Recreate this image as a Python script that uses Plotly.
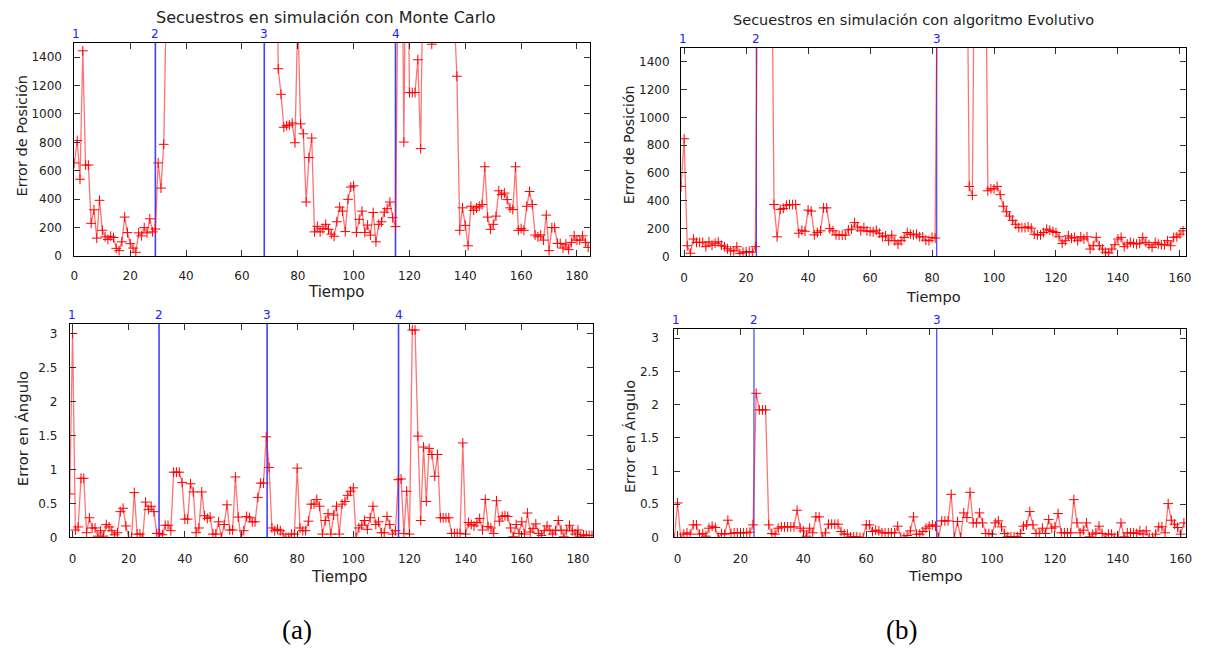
import plotly.graph_objects as go

W, H = 1208, 655

# ---------------- data ----------------
# Monte Carlo, position error, t = 0 .. 184 (values above 1500 leave the plot)
mc_pos_start = 0
mc_pos = [
    655, 813, 540, 1444, 640, 640, 230, 325, 126, 392,
    181, 135, 117, 139, 130, 54, 38, 100, 274, 165,
    87, 56, 26, 163, 142, 200, 163, 262, 170, 190,
    655, 478, 786, 1900, 3000, 3000, 3000, 3000, 3000, 3000,
    3000, 3000, 3000, 3000, 3000, 3000, 3000, 3000, 3000, 3000,
    3000, 3000, 3000, 3000, 3000, 3000, 3000, 3000, 3000, 3000,
    3000, 3000, 3000, 3000, 3000, 3000, 3000, 3000, 3000, 3000,
    3000, 3000, 3000, 1318, 1138, 906, 917, 922, 936, 797,
    1700, 930, 860, 380, 693, 830, 170, 209, 170, 193,
    223, 188, 154, 139, 241, 344, 316, 172, 399, 485,
    494, 166, 258, 316, 166, 218, 147, 306, 100, 223,
    241, 309, 333, 380, 270, 207, 2100, 3000, 802, 3000,
    1150, 1150, 1150, 1381, 756, 2250, 3000, 3000, 1490, 3000,
    3000, 3000, 3000, 3000, 3000, 3000, 1700, 1265, 181, 339,
    216, 72, 350, 321, 339, 350, 362, 628, 274, 188,
    223, 281, 459, 432, 443, 397, 339, 327, 628, 181,
    193, 181, 350, 454, 362, 148, 135, 148, 112, 288,
    38, 200, 200, 89, 89, 56, 84, 45, 96, 142,
    112, 112, 142, 96, 61,
]
mc_pos_events = [0, 29, 68, 115]

# Evolutionary algorithm, position error, t = -1 .. 161
ev_pos_start = -1
ev_pos = [
    503, 846, 77, 23, 125, 101, 101, 101, 70, 105,
    80, 95, 105, 80, 70, 55, 40, 40, 70, 20,
    30, 35, 35, 30, 70, 3000, 3000, 3000, 3000, 3000,
    373, 141, 338, 345, 368, 373, 373, 373, 167, 188,
    181, 333, 326, 155, 172, 184, 349, 349, 200, 184,
    155, 153, 153, 153, 191, 196, 243, 212, 184, 207,
    184, 179, 177, 188, 167, 141, 148, 113, 153, 113,
    89, 113, 137, 172, 160, 155, 160, 141, 141, 117,
    113, 137, 132, 3000, 3000, 3000, 3000, 3000, 3000, 3000,
    3000, 3000, 3000, 503, 439, 3000, 3000, 3000, 3000, 472,
    486, 486, 503, 444, 361, 321, 290, 259, 231, 207,
    207, 207, 212, 203, 160, 155, 155, 172, 196, 188,
    179, 172, 141, 94, 113, 148, 132, 137, 113, 141,
    125, 141, 53, 77, 137, 77, 53, 30, 25, 53,
    84, 125, 137, 70, 89, 101, 94, 89, 94, 137,
    101, 84, 65, 101, 89, 84, 84, 113, 77, 137,
    141, 160, 184,
]
ev_pos_events = [-1, 23.3, 81.5]

# Monte Carlo, angle error, t = -1 .. 185
mc_ang_start = -1
mc_ang = [
    0.64, 3.0, 0.11, 0.155, 0.87, 0.87, 0.07, 0.29, 0.14, 0.14,
    0.02, 0.1, 0.02, 0.19, 0.155, 0.1, 0.04, 0.07, 0.38, 0.43,
    0.17, 0.0, 0.0, 0.66, 0.05, 0.05, 0.0, 0.52, 0.41, 0.46,
    0.38, 0.06, 0.06, 0.04, 0.18, 0.18, 0.1, 0.96, 0.96, 0.96,
    0.81, 0.27, 0.27, 0.79, 0.67, 0.07, 0.14, 0.67, 0.32, 0.28,
    0.3, 0.05, 0.05, 0.23, 0.0, 0.19, 0.48, 0.11, 0.11, 0.89,
    0.3, 0.0, 0.1, 0.31, 0.29, 0.23, 0.23, 0.59, 0.8, 0.8,
    1.48, 1.03, 0.14, 0.1, 0.12, 0.1, 0.05, 0.0, 0.0, 0.05,
    0.05, 1.02, 0.14, 0.1, 0.1, 0.24, 0.49, 0.49, 0.56, 0.46,
    0.05, 0.25, 0.35, 0.05, 0.33, 0.46, 0.05, 0.49, 0.53, 0.62,
    0.68, 0.73, 0.0, 0.14, 0.18, 0.25, 0.12, 0.29, 0.46, 0.19,
    0.23, 0.07, 0.07, 0.31, 0.19, 0.05, 0.1, 0.85, 0.86, 0.06,
    0.68, 0.05, 3.05, 3.05, 1.49, 0.25, 1.33, 0.53, 1.31, 1.22,
    0.9, 1.22, 0.29, 0.29, 0.29, 0.29, 0.06, 0.06, 0.06, 0.06,
    1.39, 0.05, 0.22, 0.19, 0.17, 0.22, 0.28, 0.11, 0.56, 0.16,
    0.14, 0.06, 0.54, 0.24, 0.31, 0.32, 0.31, 0.14, 0.01, 0.19,
    0.06, 0.23, 0.05, 0.36, 0.08, 0.13, 0.2, 0.06, 0.03, 0.1,
    0.17, 0.11, 0.05, 0.1, 0.25, 0.11, 0.01, 0.1, 0.18, 0.1,
    0.05, 0.11, 0.02, 0.04, 0.03, 0.03, 0.03,
]
mc_ang_events = [-1, 30.8, 69.3, 116.1]

# Evolutionary algorithm, angle error, t = -1 .. 161
ev_ang_start = -1
ev_ang = [
    0.0, 0.52, 0.0, 0.05, 0.07, 0.05, 0.19, 0.19, 0.05, 0.06,
    0.02, 0.14, 0.17, 0.15, 0.0, 0.06, 0.05, 0.26, 0.06, 0.07,
    0.07, 0.07, 0.07, 0.07, 0.08, 0.19, 2.17, 1.92, 1.92, 1.92,
    0.19, 0.06, 0.05, 0.14, 0.16, 0.16, 0.16, 0.16, 0.16, 0.41,
    0.14, 0.1, 0.02, 0.14, 0.07, 0.31, 0.31, 0.0, 0.07, 0.2,
    0.2, 0.2, 0.2, 0.09, 0.05, 0.05, 0.01, 0.01, 0.01, 0.0,
    0.0, 0.19, 0.19, 0.09, 0.11, 0.1, 0.07, 0.07, 0.07, 0.07,
    0.07, 0.17, 0.0, 0.0, 0.03, 0.1, 0.31, 0.05, 0.05, 0.09,
    0.14, 0.17, 0.19, 0.17, 0.0, 0.25, 0.25, 0.25, 0.65, 0.0,
    0.24, 0.0, 0.37, 0.3, 0.68, 0.22, 0.22, 0.37, 0.22, 0.06,
    0.06, 0.05, 0.22, 0.25, 0.16, 0.06, 0.01, 0.01, 0.01, 0.01,
    0.06, 0.17, 0.19, 0.39, 0.19, 0.06, 0.06, 0.14, 0.06, 0.27,
    0.14, 0.16, 0.36, 0.07, 0.07, 0.07, 0.07, 0.57, 0.22, 0.07,
    0.11, 0.22, 0.01, 0.05, 0.07, 0.17, 0.06, 0.0, 0.05, 0.05,
    0.0, 0.0, 0.22, 0.01, 0.07, 0.07, 0.07, 0.06, 0.1, 0.05,
    0.1, 0.0, 0.0, 0.05, 0.16, 0.16, 0.07, 0.51, 0.26, 0.2,
    0.15, 0.05, 0.22,
]
ev_ang_events = [-1, 24.3, 82.4]

PI = 3.14159

# panel geometry in pixels: (left, right, top, bottom), ranges, tick steps, label gaps
panels = [
    dict(key="", px=(71, 591, 43.3, 258.8), xr=[0, 184.7], yr=[0, 1500], dy=200,
         start=mc_pos_start, vals=mc_pos, events=mc_pos_events,
         xgap=9, ygap=9, evw=1.6),
    dict(key="2", px=(682.7, 1191.7, 48.3, 259.2), xr=[-1, 161.9], yr=[0, 1500], dy=200,
         start=ev_pos_start, vals=ev_pos, events=ev_pos_events,
         xgap=10, ygap=8, evw=1.2),
    dict(key="3", px=(66.3, 594.3, 327.3, 543.3), xr=[-1, 185.5], yr=[0, PI], dy=0.5,
         start=mc_ang_start, vals=mc_ang, events=mc_ang_events,
         xgap=10, ygap=9, evw=1.6),
    dict(key="4", px=(676, 1192.3, 332.3, 543.3), xr=[-1, 161.8], yr=[0, PI], dy=0.5,
         start=ev_ang_start, vals=ev_ang, events=ev_ang_events,
         xgap=10, ygap=12, evw=1.2),
]

FONT = "DejaVu Sans"
TXT = "#222222"

fig = go.Figure()
layout = dict(
    width=W, height=H, autosize=False,
    margin=dict(l=0, r=0, t=0, b=0, pad=0),
    paper_bgcolor="white", plot_bgcolor="white",
    showlegend=False,
    font=dict(family=FONT, color=TXT),
)
annotations = []

for p in panels:
    k = p["key"]
    l, r, t, b = p["px"]
    xa, ya = "x" + k, "y" + k
    common = dict(
        showline=True, linecolor="black", linewidth=1, mirror="allticks",
        ticks="inside", ticklen=6, tickwidth=1, tickcolor="#333333",
        showgrid=False, zeroline=False, fixedrange=True, layer="above traces",
        tickfont=dict(family=FONT, size=12, color=TXT),
    )
    layout["xaxis" + k] = dict(common, domain=[l / W, r / W], range=p["xr"],
                               anchor=ya, tick0=0, dtick=20,
                               ticklabelstandoff=p["xgap"])
    layout["yaxis" + k] = dict(common, domain=[1 - b / H, 1 - t / H], range=p["yr"],
                               anchor=xa, tick0=0, dtick=p["dy"],
                               ticklabelstandoff=p["ygap"])

    # blue event markers; the first one sits on the left border, so only its
    # number is shown
    ex, ey = [], []
    for e in p["events"][1:]:
        ex += [e, e, None]
        ey += [p["yr"][0], p["yr"][1], None]
    fig.add_trace(go.Scatter(
        x=ex, y=ey, xaxis=xa, yaxis=ya, mode="lines",
        line=dict(color="rgba(30,30,255,0.85)", width=p["evw"]),
        hoverinfo="skip"))
    for i, e in enumerate(p["events"]):
        annotations.append(dict(
            x=e, xref=xa, y=1, yref=ya + " domain", yanchor="bottom", yshift=0,
            xshift=2 if i == 0 else 0,
            text=str(i + 1), showarrow=False,
            font=dict(family=FONT, size=12, color="#2020ff")))

    # error series
    ts = list(range(p["start"], p["start"] + len(p["vals"])))
    fig.add_trace(go.Scatter(
        x=ts, y=p["vals"], xaxis=xa, yaxis=ya, mode="lines+markers",
        line=dict(color="rgba(255,0,0,0.55)", width=1.3),
        marker=dict(symbol="cross-thin", size=7, color="red",
                    line=dict(color="red", width=1)),
        cliponaxis=True, hoverinfo="skip"))

# titles and axis labels
def label(x, y, text, size, angle=0, family=FONT, color=TXT):
    annotations.append(dict(
        x=x / W, y=1 - y / H, xref="paper", yref="paper",
        xanchor="center", yanchor="middle", text=text, showarrow=False,
        textangle=angle, font=dict(family=family, size=size, color=color)))

label(324, 17.5, "Secuestros en simulación con Monte Carlo", 16)
label(917, 20.5, "Secuestros en simulación con algoritmo Evolutivo", 14.5)
label(18, 137, "Error de Posición", 14.5, -90)
label(631, 146, "Error de Posición", 14.2, -90)
label(19, 433, "Error en Ángulo", 14.8, -90)
label(632, 441, "Error en Ángulo", 14.5, -90)
label(335, 295, "Tiempo", 15)
label(937, 300, "Tiempo", 14.5)
label(338, 583, "Tiempo", 15)
label(939, 582, "Tiempo", 14.5)
label(295, 637, "(a)", 27, family="Liberation Serif", color="black")
label(905, 637, "(b)", 27, family="Liberation Serif", color="black")

layout["annotations"] = annotations
fig.update_layout(**layout)
fig.write_html("out.html")
